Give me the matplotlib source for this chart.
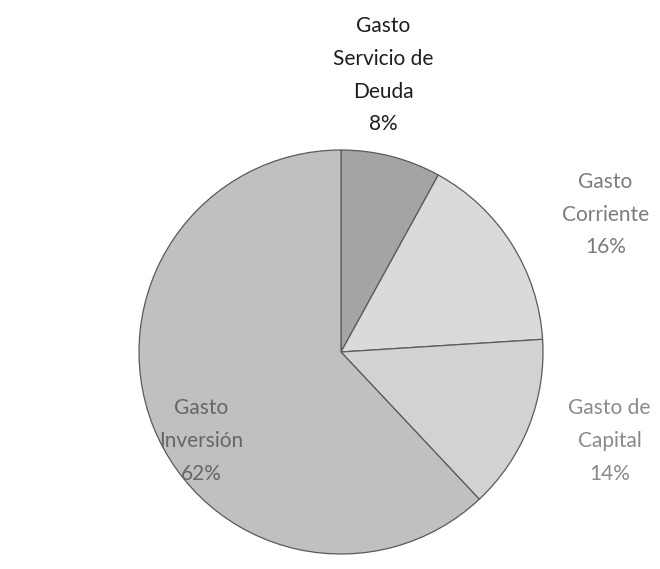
import matplotlib
matplotlib.use("Agg")
from matplotlib import pyplot as plt

# Budget breakdown (share of total spending)
categories = ["Gasto\nServicio de\nDeuda", "Gasto\nCorriente", "Gasto de\nCapital", "Gasto\nInversión"]
shares = [8, 16, 14, 62]
pct_labels = ["8%", "16%", "14%", "62%"]

slice_colors = ["#a4a4a4", "#dadada", "#d2d2d2", "#c0c0c0"]
label_colors = ["#1e1e1e", "#7c7c7c", "#8a8a8a", "#666666"]
# label anchors in pie-radius units
label_pos = [(0.21, 1.37), (1.31, 0.68), (1.33, -0.44), (-0.69, -0.44)]

W, H = 660, 569
cx, cy, r = 341, 352, 202   # pie centre / radius in pixels
x0, x1, y0, y1 = -1.68, 1.58, -1.02, 1.76

fig = plt.figure(figsize=(W / 100, H / 100), dpi=100)
ax = fig.add_axes([(cx + x0 * r) / W, (H - (cy - y0 * r)) / H,
                   (x1 - x0) * r / W, (y1 - y0) * r / H])

ax.pie(shares, colors=slice_colors, startangle=90, counterclock=False,
       radius=1.0, center=(0, 0), frame=True,
       wedgeprops=dict(edgecolor="#5a5a5a", linewidth=0.9))
ax.set_xlim(x0, x1)
ax.set_ylim(y0, y1)
ax.set_aspect("auto")
ax.axis("off")

for name, pct, (lx, ly), c in zip(categories, pct_labels, label_pos, label_colors):
    ax.text(lx, ly, name + "\n" + pct, ha="center", va="center",
            fontsize=15, family=["Lato", "DejaVu Sans"], color=c,
            linespacing=1.8)

fig.savefig("out.png", dpi=100)
